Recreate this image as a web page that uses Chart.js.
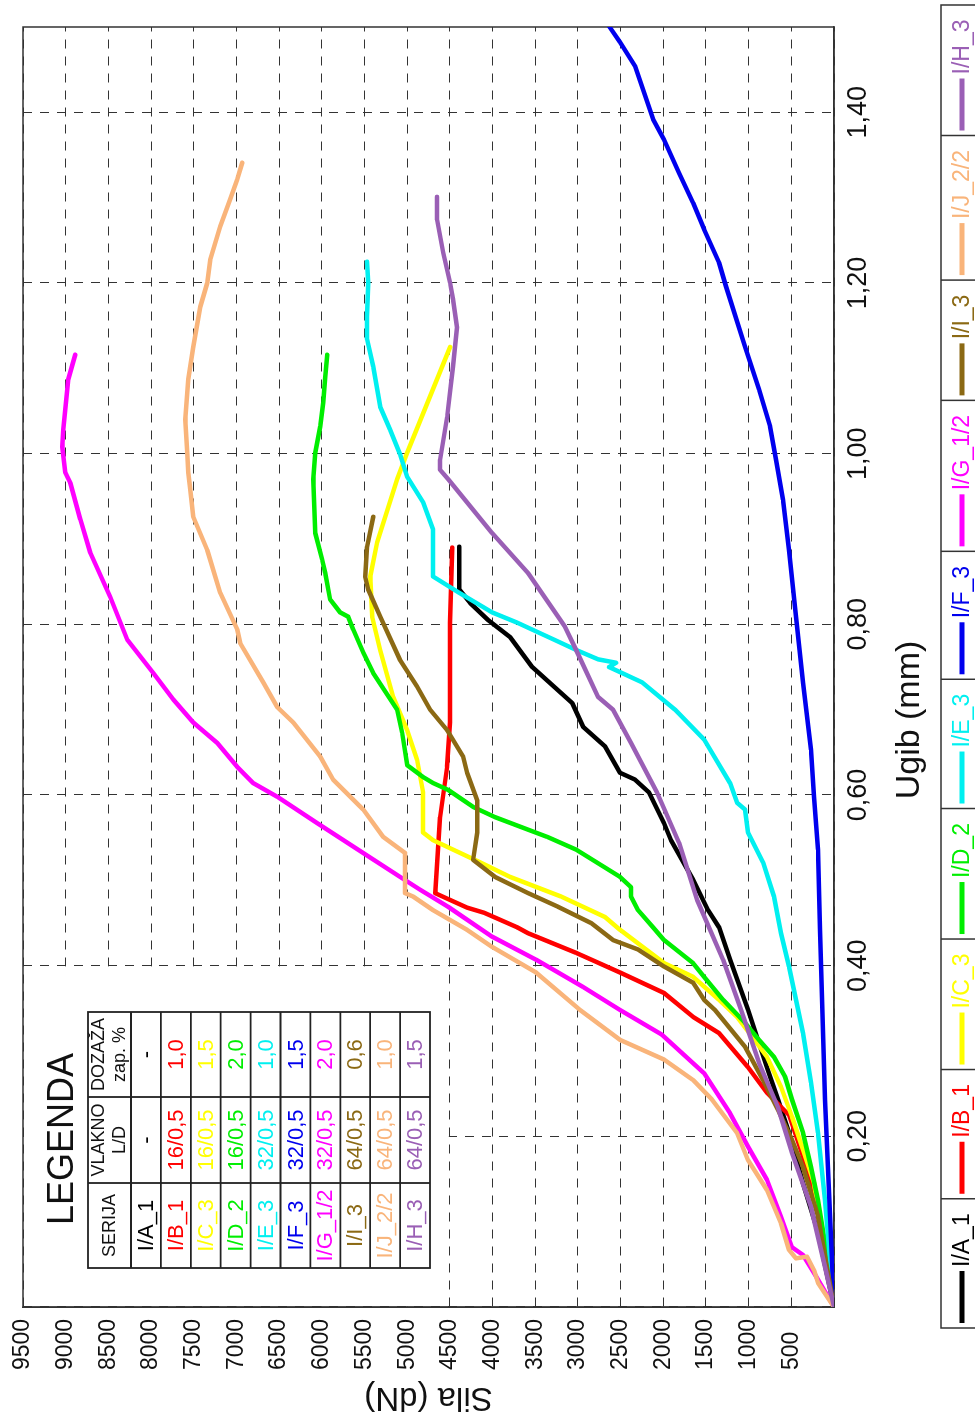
<!DOCTYPE html>
<html>
<head>
<meta charset="utf-8">
<script src="https://cdn.jsdelivr.net/npm/chart.js@4.4.0/dist/chart.umd.min.js"></script>
<style>
    html, body { margin: 0; padding: 0; background: #fff; }
    #wrap { position: relative; width: 975px; height: 1418px; overflow: hidden; }
    /* chart is drawn landscape and turned a quarter turn to the left */
    #c { position: absolute; left: 0; top: 0; transform-origin: 0 0; transform: translateY(1418px) rotate(-90deg); }
</style>
</head>
<body>
<div id="wrap"><canvas id="c" width="1418" height="975"></canvas></div>
<script>
// series names and legend table
var serije = ['I/A_1', 'I/B_1', 'I/C_3', 'I/D_2', 'I/E_3', 'I/F_3', 'I/G_1/2', 'I/I_3', 'I/J_2/2', 'I/H_3'];
var vlakno = ['-', '16/0,5', '16/0,5', '16/0,5', '32/0,5', '32/0,5', '32/0,5', '64/0,5', '64/0,5', '64/0,5'];
var dozaza = ['-', '1,0', '1,5', '2,0', '1,0', '1,5', '2,0', '0,6', '1,0', '1,5'];
var boje = ['#000000', '#ff0000', '#ffff00', '#00ee00', '#00f0f0', '#0000ee', '#ff00ff', '#8b6914', '#f9b47a', '#9a5fb5'];

// Ugib (mm) and Sila (dN) per series
var ugibA1 = [0, 0.087, 0.145, 0.204, 0.243, 0.281, 0.348, 0.407, 0.445, 0.465, 0.501, 0.547, 0.567, 0.603, 0.618, 0.626, 0.657, 0.680, 0.708, 0.727, 0.750, 0.785, 0.805, 0.825, 0.841, 0.891];
var silaA1 = [0, 187, 363, 527, 656, 785, 1007, 1218, 1347, 1475, 1651, 1909, 1991, 2166, 2330, 2506, 2682, 2939, 3068, 3279, 3536, 3794, 4052, 4262, 4391, 4391];

var ugibB1 = [0, 0.137, 0.176, 0.225, 0.251, 0.281, 0.321, 0.340, 0.368, 0.392, 0.415, 0.438, 0.445, 0.462, 0.468, 0.477, 0.485, 0.574, 0.633, 0.685, 0.802, 0.890];
var silaB1 = [0, 234, 363, 527, 785, 1007, 1347, 1651, 1991, 2506, 3021, 3583, 3712, 4099, 4298, 4497, 4672, 4614, 4532, 4497, 4497, 4473];

var ugibC3 = [0, 0.145, 0.184, 0.223, 0.258, 0.293, 0.317, 0.340, 0.360, 0.387, 0.403, 0.442, 0.457, 0.481, 0.504, 0.521, 0.547, 0.556, 0.603, 0.641, 0.676, 0.715, 0.770, 0.809, 0.856, 0.896, 0.970, 1.001, 1.125];
var silaC3 = [0, 234, 363, 492, 621, 785, 960, 1136, 1347, 1651, 1991, 2506, 2682, 3197, 3794, 4145, 4696, 4813, 4813, 4883, 5000, 5164, 5316, 5410, 5433, 5352, 5117, 5000, 4497];

var ugibD2 = [0, 0.075, 0.125, 0.164, 0.204, 0.243, 0.270, 0.293, 0.313, 0.333, 0.360, 0.387, 0.403, 0.430, 0.445, 0.465, 0.481, 0.492, 0.504, 0.536, 0.551, 0.574, 0.586, 0.606, 0.614, 0.621, 0.635, 0.673, 0.700, 0.743, 0.767, 0.794, 0.809, 0.814, 0.829, 0.860, 0.876, 0.907, 0.970, 1.001, 1.032, 1.060, 1.090, 1.116];
var silaD2 = [0, 105, 187, 269, 363, 492, 574, 703, 878, 1042, 1300, 1522, 1651, 1991, 2120, 2295, 2377, 2377, 2506, 3021, 3361, 3970, 4227, 4520, 4696, 4813, 5000, 5059, 5117, 5398, 5515, 5632, 5691, 5785, 5902, 5960, 5996, 6077, 6101, 6077, 6019, 5984, 5960, 5937];

var ugibE3 = [0, 0.125, 0.204, 0.263, 0.321, 0.360, 0.399, 0.438, 0.481, 0.521, 0.556, 0.583, 0.591, 0.614, 0.665, 0.700, 0.732, 0.750, 0.755, 0.759, 0.770, 0.782, 0.802, 0.814, 0.837, 0.856, 0.911, 0.943, 0.973, 0.999, 1.028, 1.055, 1.102, 1.134, 1.161, 1.200, 1.225];
var silaE3 = [0, 105, 187, 269, 363, 445, 527, 621, 703, 831, 1007, 1042, 1136, 1218, 1522, 1862, 2248, 2635, 2553, 2764, 3021, 3279, 3712, 4005, 4391, 4696, 4696, 4813, 5000, 5082, 5199, 5316, 5398, 5469, 5469, 5457, 5469];

var ugibF3 = [0, 0.243, 0.442, 0.536, 0.598, 0.653, 0.732, 0.809, 0.887, 0.946, 0.993, 1.032, 1.075, 1.125, 1.196, 1.224, 1.263, 1.294, 1.329, 1.368, 1.392, 1.454, 1.482, 1.501];
var silaF3 = [0, 105, 164, 187, 234, 269, 363, 445, 527, 597, 679, 749, 878, 1042, 1265, 1347, 1522, 1651, 1815, 1991, 2120, 2330, 2506, 2635];

var ugibG12 = [0, 0.040, 0.061, 0.070, 0.106, 0.149, 0.188, 0.227, 0.274, 0.319, 0.348, 0.375, 0.407, 0.434, 0.469, 0.489, 0.504, 0.532, 0.567, 0.598, 0.614, 0.633, 0.661, 0.685, 0.712, 0.743, 0.782, 0.832, 0.884, 0.923, 0.966, 0.978, 1.008, 1.028, 1.087, 1.116];
var silaG12 = [0, 234, 363, 492, 621, 785, 1007, 1218, 1522, 2014, 2506, 2939, 3490, 4005, 4520, 4848, 5082, 5515, 6054, 6522, 6804, 6991, 7225, 7506, 7740, 7975, 8279, 8478, 8712, 8829, 8946, 9005, 9040, 9028, 8970, 8888];

var ugibI3 = [0, 0.106, 0.164, 0.196, 0.231, 0.266, 0.305, 0.348, 0.360, 0.380, 0.399, 0.419, 0.430, 0.450, 0.469, 0.485, 0.504, 0.524, 0.556, 0.594, 0.626, 0.645, 0.676, 0.700, 0.727, 0.758, 0.809, 0.841, 0.856, 0.891, 0.926];
var silaI3 = [0, 187, 363, 492, 656, 831, 1042, 1393, 1522, 1651, 1991, 2295, 2588, 2846, 3232, 3583, 3970, 4227, 4180, 4180, 4298, 4344, 4532, 4731, 4883, 5082, 5316, 5457, 5492, 5469, 5398];

var ugibJ22 = [0, 0.028, 0.043, 0.059, 0.057, 0.067, 0.098, 0.137, 0.172, 0.204, 0.243, 0.266, 0.290, 0.313, 0.348, 0.392, 0.422, 0.442, 0.465, 0.481, 0.485, 0.532, 0.551, 0.583, 0.618, 0.645, 0.685, 0.703, 0.732, 0.778, 0.794, 0.837, 0.887, 0.926, 0.958, 0.978, 1.001, 1.040, 1.087, 1.125, 1.172, 1.200, 1.227, 1.266, 1.298, 1.321, 1.341];
var silaJ22 = [0, 187, 234, 316, 445, 527, 621, 785, 1007, 1136, 1429, 1651, 1991, 2506, 2974, 3490, 4005, 4298, 4696, 4930, 5024, 5024, 5281, 5515, 5867, 6019, 6335, 6522, 6686, 6956, 6991, 7190, 7342, 7506, 7541, 7565, 7576, 7600, 7565, 7506, 7424, 7342, 7307, 7190, 7073, 6991, 6932];

var ugibH3 = [0, 0.047, 0.117, 0.181, 0.234, 0.286, 0.348, 0.407, 0.477, 0.544, 0.603, 0.661, 0.700, 0.715, 0.770, 0.797, 0.860, 0.907, 0.970, 0.981, 0.993, 1.043, 1.102, 1.148, 1.181, 1.200, 1.236, 1.274, 1.301];
var silaH3 = [0, 105, 269, 492, 656, 878, 1089, 1300, 1604, 1815, 2073, 2377, 2588, 2764, 3021, 3150, 3583, 4005, 4520, 4614, 4614, 4532, 4462, 4415, 4462, 4497, 4579, 4649, 4649];

var ugib = [ugibA1, ugibB1, ugibC3, ugibD2, ugibE3, ugibF3, ugibG12, ugibI3, ugibJ22, ugibH3];
var sila = [silaA1, silaB1, silaC3, silaD2, silaE3, silaF3, silaG12, silaI3, silaJ22, silaH3];

var FONT = "'Liberation Sans', Arial, sans-serif";

function zarez(v) {
    return v.toFixed(2).replace('.', ',');
}

// white box, frame, table "LEGENDA", axis titles and the boxed legend
var crtez = {
    id: 'crtez',
    beforeDatasetsDraw: function (chart) {
        var ctx = chart.ctx, a = chart.chartArea;
        var x1 = chart.scales.x.getPixelForValue(0.4);
        var y1 = chart.scales.y.getPixelForValue(4500);
        ctx.save();
        ctx.fillStyle = '#fff';
        ctx.fillRect(a.left + 1, a.top + 1, x1 - a.left - 2, y1 - a.top - 2);
        ctx.strokeStyle = '#333';
        ctx.lineWidth = 1.5;
        ctx.strokeRect(a.left, a.top, a.right - a.left, a.bottom - a.top);
        ctx.restore();
    },
    afterDatasetsDraw: function (chart) {
        var ctx = chart.ctx;
        var cols = [150, 235, 321, 406];
        var top = 88, head = 131, rowH = 29.9;
        var bottom = head + rowH * serije.length;
        ctx.save();
        ctx.fillStyle = '#111';
        ctx.textAlign = 'center';
        ctx.textBaseline = 'middle';
        ctx.font = '36px ' + FONT;
        ctx.fillText('LEGENDA', 279, 63);

        ctx.strokeStyle = '#222';
        ctx.lineWidth = 1.8;
        ctx.strokeRect(cols[0], top, cols[3] - cols[0], bottom - top);
        ctx.beginPath();
        for (var c = 1; c < 3; c++) {
            ctx.moveTo(cols[c], top);
            ctx.lineTo(cols[c], bottom);
        }
        for (var r = 0; r < serije.length; r++) {
            ctx.moveTo(cols[0], head + rowH * r);
            ctx.lineTo(cols[3], head + rowH * r);
        }
        ctx.stroke();

        ctx.font = '18px ' + FONT;
        ctx.fillText('SERIJA', (cols[0] + cols[1]) / 2, 110);
        ctx.fillText('VLAKNO', (cols[1] + cols[2]) / 2, 99);
        ctx.fillText('L/D', (cols[1] + cols[2]) / 2, 120);
        ctx.fillText('DOZAŽA', (cols[2] + cols[3]) / 2, 99);
        ctx.fillText('zap. %', (cols[2] + cols[3]) / 2, 120);

        ctx.font = '22px ' + FONT;
        for (var i = 0; i < serije.length; i++) {
            var v = head + rowH * (i + 0.5) + 1;
            ctx.fillStyle = boje[i];
            ctx.fillText(serije[i], (cols[0] + cols[1]) / 2, v);
            ctx.fillText(vlakno[i], (cols[1] + cols[2]) / 2, v);
            ctx.fillText(dozaza[i], (cols[2] + cols[3]) / 2, v);
        }
        ctx.restore();
    },
    afterDraw: function (chart) {
        var ctx = chart.ctx, a = chart.chartArea;
        ctx.save();
        ctx.fillStyle = '#111';
        ctx.textAlign = 'center';
        ctx.textBaseline = 'middle';
        ctx.font = '34px ' + FONT;
        ctx.fillText('Ugib (mm)', 698, 910);

        ctx.translate(21, (a.top + a.bottom) / 2);
        ctx.rotate(-Math.PI / 2);
        ctx.font = '33px ' + FONT;
        ctx.fillText('Sila (dN)', 0, 0);
        ctx.restore();

        // boxed legend under the plot
        var u0 = 90, u1 = 1413, v0 = 941, vm = 962;
        ctx.save();
        ctx.font = '23px ' + FONT;
        var sirine = serije.map(function (s) { return ctx.measureText(s).width + 74; });
        var suma = sirine.reduce(function (p, q) { return p + q; }, 0);
        var visak = (u1 - u0 - suma) / serije.length;
        ctx.strokeStyle = '#333';
        ctx.lineWidth = 1.5;
        ctx.strokeRect(u0, v0, u1 - u0, 45);
        var u = u0;
        for (var i = 0; i < serije.length; i++) {
            var w = sirine[i] + visak;
            if (i > 0) {
                ctx.strokeStyle = '#333';
                ctx.lineWidth = 1.5;
                ctx.beginPath();
                ctx.moveTo(u, v0);
                ctx.lineTo(u, v0 + 45);
                ctx.stroke();
            }
            ctx.strokeStyle = boje[i];
            ctx.lineWidth = 5;
            ctx.beginPath();
            ctx.moveTo(u + 5, vm);
            ctx.lineTo(u + 57, vm);
            ctx.stroke();
            ctx.fillStyle = boje[i];
            ctx.textAlign = 'left';
            ctx.textBaseline = 'middle';
            ctx.fillText(serije[i], u + 61, vm + 1);
            u += w;
        }
        ctx.restore();
    }
};

var datasets = serije.map(function (s, i) {
    return {
        label: s,
        data: ugib[i].map(function (x, j) { return { x: x, y: sila[i][j] }; }),
        borderColor: boje[i],
        backgroundColor: boje[i],
        borderWidth: 4.5,
        pointRadius: 0,
        tension: 0,
        fill: false,
        borderJoinStyle: 'round',
        borderCapStyle: 'round',
        order: serije.length - i
    };
});

var chart = new Chart(document.getElementById('c'), {
    type: 'line',
    data: { datasets: datasets },
    plugins: [crtez],
    options: {
        responsive: false,
        animation: false,
        devicePixelRatio: 1,
        layout: { padding: { left: 48, right: 27, top: 23, bottom: 0 } },
        plugins: {
            legend: { display: false },
            tooltip: { enabled: false }
        },
        scales: {
            x: {
                type: 'linear',
                min: 0,
                max: 1.5,
                afterFit: function (scale) { scale.height = 141; },
                grid: { color: '#333', lineWidth: 1, drawTicks: false },
                border: { display: true, color: '#333', width: 1.5, dash: [9, 8] },
                ticks: {
                    stepSize: 0.2,
                    includeBounds: false,
                    autoSkip: false,
                    maxRotation: 0,
                    padding: 8,
                    color: '#111',
                    font: { family: FONT, size: 27 },
                    callback: function (v) { return v === 0 ? '' : zarez(v); }
                }
            },
            y: {
                min: 0,
                max: 9500,
                afterFit: function (scale) { scale.width = 63; },
                grid: { color: '#333', lineWidth: 1, drawTicks: false },
                border: { display: true, color: '#333', width: 1.5, dash: [9, 8] },
                ticks: {
                    stepSize: 500,
                    autoSkip: false,
                    crossAlign: 'far',
                    color: '#111',
                    font: { family: FONT, size: 23 },
                    callback: function (v) { return v === 0 ? '' : String(v); }
                }
            }
        }
    }
});
</script>
</body>
</html>
